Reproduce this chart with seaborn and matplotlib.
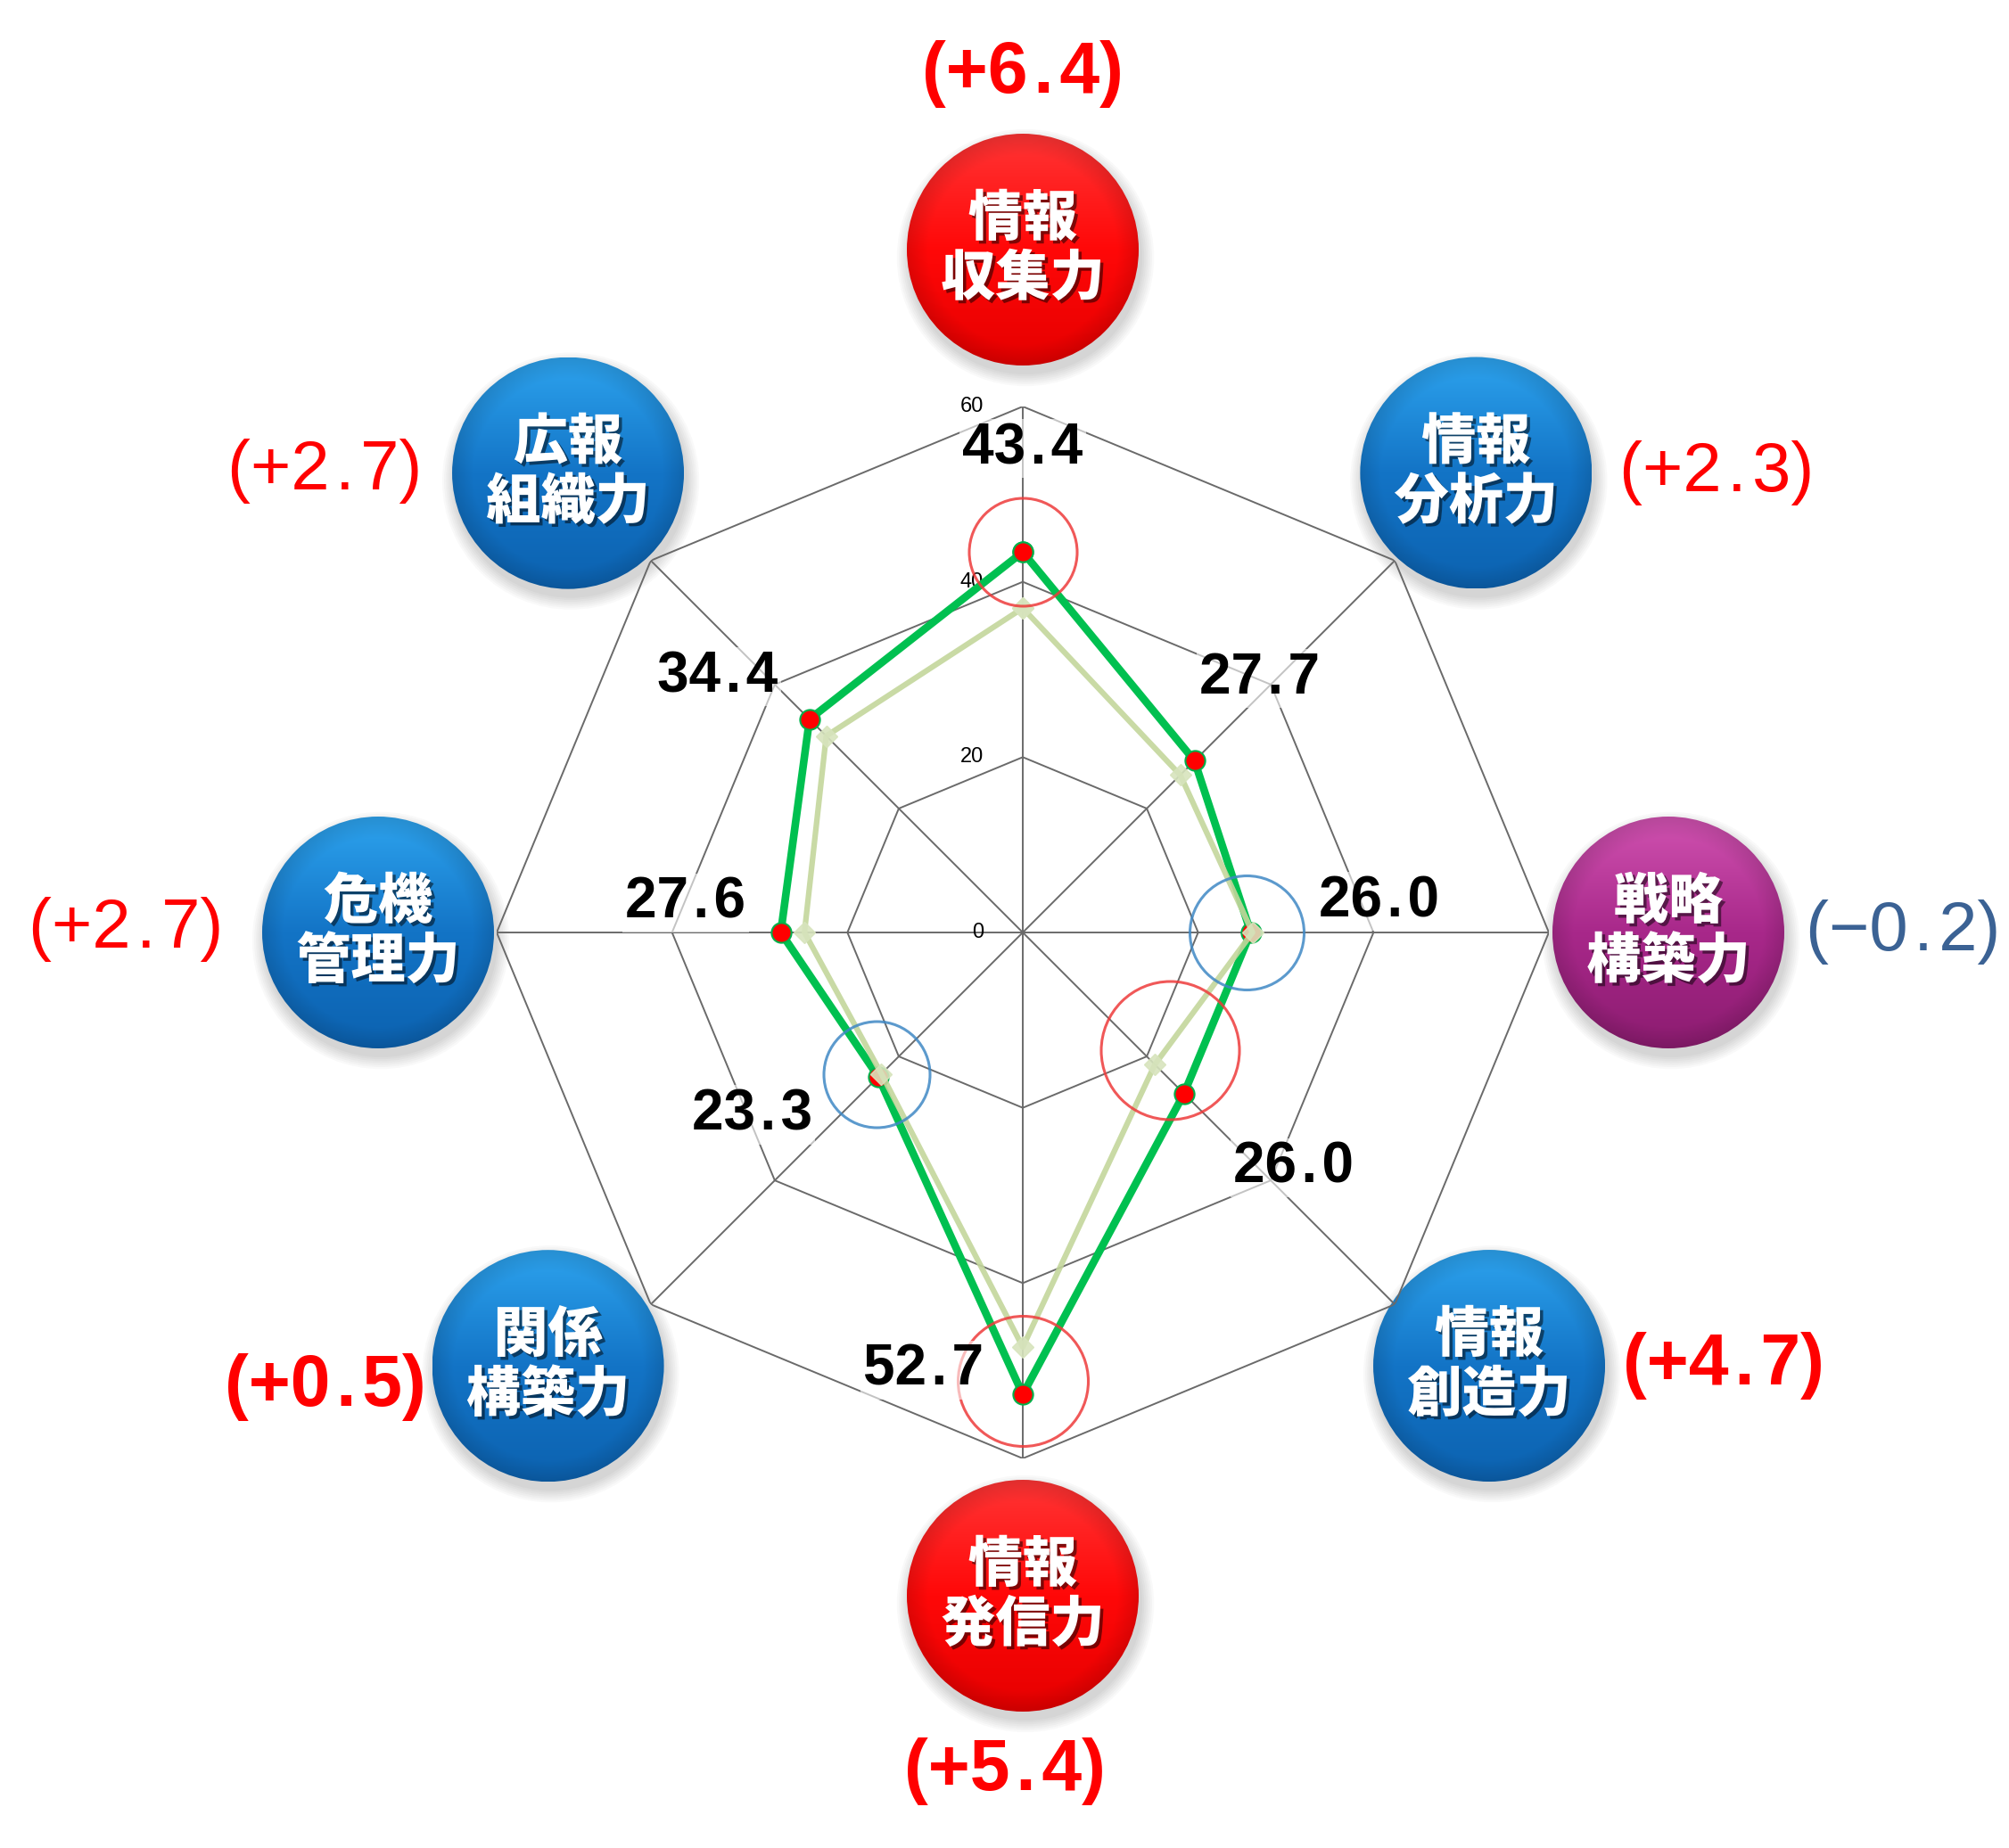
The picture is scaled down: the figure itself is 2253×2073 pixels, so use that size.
import numpy as np
import matplotlib
matplotlib.use('Agg')
import matplotlib.pyplot as plt
import matplotlib.patheffects as pe
from matplotlib.patches import Circle
from matplotlib import transforms
import seaborn as sns

# data
categories = ['情報\n収集力', '情報\n分析力', '戦略\n構築力', '情報\n創造力',
              '情報\n発信力', '関係\n構築力', '危機\n管理力', '広報\n組織力']
current = [43.4, 27.7, 26.0, 26.0, 52.7, 23.3, 27.6, 34.4]
previous = [37.0, 25.4, 26.2, 21.3, 47.3, 22.8, 24.9, 31.7]
diff_labels = ['(+6.4)', '(+2.3)', '(\u22120.2)', '(+4.7)', '(+5.4)', '(+0.5)', '(+2.7)', '(+2.7)']
r_ticks = [0, 20, 40, 60]

# styling per category
sphere_kind = ['red', 'blue', 'purple', 'blue', 'red', 'blue', 'blue', 'blue']
diff_bold = [True, False, False, True, True, True, False, False]
diff_color = ['#ff0000', '#ff0000', '#3b6294', '#ff0000', '#ff0000', '#ff0000', '#ff0000', '#ff0000']
sphere_cols = {'red': ('#ff3535', '#ff0808', '#e60000'),
               'blue': ('#2da3ee', '#1374c6', '#0c62b0'),
               'purple': ('#d052b0', '#a8288a', '#8c1c70')}
# sphere placement (distance px from centre, angle deg) and diff label offset px
sphere_pos = [(766, 0), (724, 44.6), (724, 90), (714, 132.9),
              (744, 180), (721, 227.6), (723, 270), (725, 315.3)]
diff_off = [(0, 197), (270, 0), (263, 0), (263, 0), (-20, -197), (-250, -24), (-283, 4), (-273, 2)]
# value label placement (angle deg, r)
value_pos = [(0, 55.2), (43, 39.6), (85, 40.8), (131, 40.9),
             (192.8, 51.2), (236, 37.2), (275, 38.6), (310, 45.4)]
# highlight rings: (angle deg, r, diameter px, colour)
rings = [(0, 43.4, 121, '#ee3b3b'), (90, 25.5, 128, '#3f88c5'), (128.7, 21.5, 155, '#ee3b3b'),
         (180, 51.2, 146, '#ee3b3b'), (225.8, 23.2, 119, '#3f88c5')]

sns.set_style('white')
plt.rcParams['font.family'] = ['Noto Sans CJK JP', 'DejaVu Sans']

W, H = 2253, 2073
fig = plt.figure(figsize=(W / 100, H / 100), dpi=100)
fig.patch.set_facecolor('white')

bg = fig.add_axes([0, 0, 1, 1], zorder=0)
bg.set_axis_off()

cx, cy, R = 1147, 2073 - 1046, 590
ax = fig.add_axes([(cx - R) / W, (cy - R) / H, 2 * R / W, 2 * R / H], projection='polar', zorder=1)
ax.patch.set_alpha(0)
ax.set_theta_zero_location('N')
ax.set_theta_direction(-1)
ax.set_ylim(0, 60)
ax.grid(False)
ax.spines['polar'].set_visible(False)
ax.set_xticks([])
ax.set_yticks([])

n = len(categories)
theta = np.linspace(0, 2 * np.pi, n, endpoint=False)
theta_c = np.append(theta, theta[0])

# octagon grid and spokes
for r in r_ticks[1:]:
    ax.plot(theta_c, [r] * (n + 1), color='#6a6a6a', lw=1.4, zorder=1)
for t in theta:
    ax.plot([t, t], [0, 60], color='#6a6a6a', lw=1.4, zorder=1)
off = transforms.offset_copy(ax.transData, fig=fig, x=-44, y=0, units='dots')
for r in r_ticks:
    ax.text(0, r, str(r), transform=off, ha='right', va='center', fontsize=17,
            family=['Liberation Sans', 'DejaVu Sans'], color='black', zorder=2)

# current series
sns.lineplot(x=theta_c, y=np.append(current, current[0]), sort=False, estimator=None, ax=ax,
             color='#00c050', linewidth=6.2, marker='o', markersize=16,
             markerfacecolor='#ff0000', markeredgecolor='#00b04a', markeredgewidth=1.5, zorder=4)
# previous series
sns.lineplot(x=theta_c, y=np.append(previous, previous[0]), sort=False, estimator=None, ax=ax,
             color='#c3d69b', linewidth=4.5, marker='D', markersize=12, alpha=0.9,
             markerfacecolor='#d7e4bd', markeredgecolor='#d7e4bd', markeredgewidth=1, zorder=5)
ax.set_xlabel('')
ax.set_ylabel('')
ax.set_ylim(0, 60)

for ang, r, d, c in rings:
    ax.plot([np.deg2rad(ang)], [r], marker='o', markersize=d * 0.72, markerfacecolor='none',
            markeredgecolor=c, markeredgewidth=2.2, alpha=0.85, zorder=6)


def spaced(s):
    # a little extra room round the decimal point, as in the original
    return s.replace('.', '\u200a.\u200a')


for i, (ang, r) in enumerate(value_pos):
    ax.text(np.deg2rad(ang), r, spaced(f'{current[i]:.1f}'), ha='center', va='center', fontsize=46,
            fontweight='bold', family=['Liberation Sans', 'DejaVu Sans'], color='black',
            zorder=7, bbox=dict(boxstyle='square,pad=0.05', fc='white', ec='none', alpha=0.6))


def sphere(x, y, r, cols):
    for k in range(7):
        bg.add_patch(Circle((x + 3, y - 9), r + 1 + k * 2.2, color='black', alpha=0.025, zorder=1, lw=0))
    top, mid, bot = [np.array(matplotlib.colors.to_rgb(c)) for c in cols]
    m = 256
    yy, xx = np.mgrid[-1:1:m * 1j, -1:1:m * 1j]
    t = (yy + 1) / 2
    w1 = np.clip(1 - 2 * t, 0, 1)[..., None]
    w3 = np.clip(2 * t - 1, 0, 1)[..., None]
    w2 = 1 - w1 - w3
    img = w1 * top + w2 * mid + w3 * bot
    d = np.sqrt(xx ** 2 + yy ** 2)
    shade = 1 - 0.12 * np.clip((d - 0.82) / 0.18, 0, 1)
    img = np.clip(img * shade[..., None], 0, 1)
    im = bg.imshow(img, extent=[x - r, x + r, y - r, y + r], origin='upper', zorder=2,
                   interpolation='bilinear', aspect='auto')
    im.set_clip_path(Circle((x, y), r, transform=bg.transData))


shadow = [pe.SimplePatchShadow(offset=(2.5, -2.5), shadow_rgbFace='black', alpha=0.5), pe.Normal()]
for i, cat in enumerate(categories):
    dist, ang = sphere_pos[i]
    a = np.deg2rad(ang)
    x, y = cx + dist * np.sin(a), cy + dist * np.cos(a)
    sphere(x, y, 130, sphere_cols[sphere_kind[i]])
    l1, l2 = cat.split('\n')
    for txt, dy in ((l1, 34), (l2, -33)):
        bg.text(x, y + dy, txt, ha='center', va='center', fontsize=44, fontweight='black',
                color='white', zorder=3, path_effects=shadow)
    dx, dy = diff_off[i]
    bg.text(x + dx, y + dy, spaced(diff_labels[i]), ha='center', va='center',
            fontsize=58 if diff_bold[i] else 56, fontweight='bold' if diff_bold[i] else 'normal',
            family=['Liberation Sans', 'DejaVu Sans'], color=diff_color[i], zorder=3)

bg.set_xlim(0, W)
bg.set_ylim(0, H)

fig.savefig('out.png', dpi=100)
